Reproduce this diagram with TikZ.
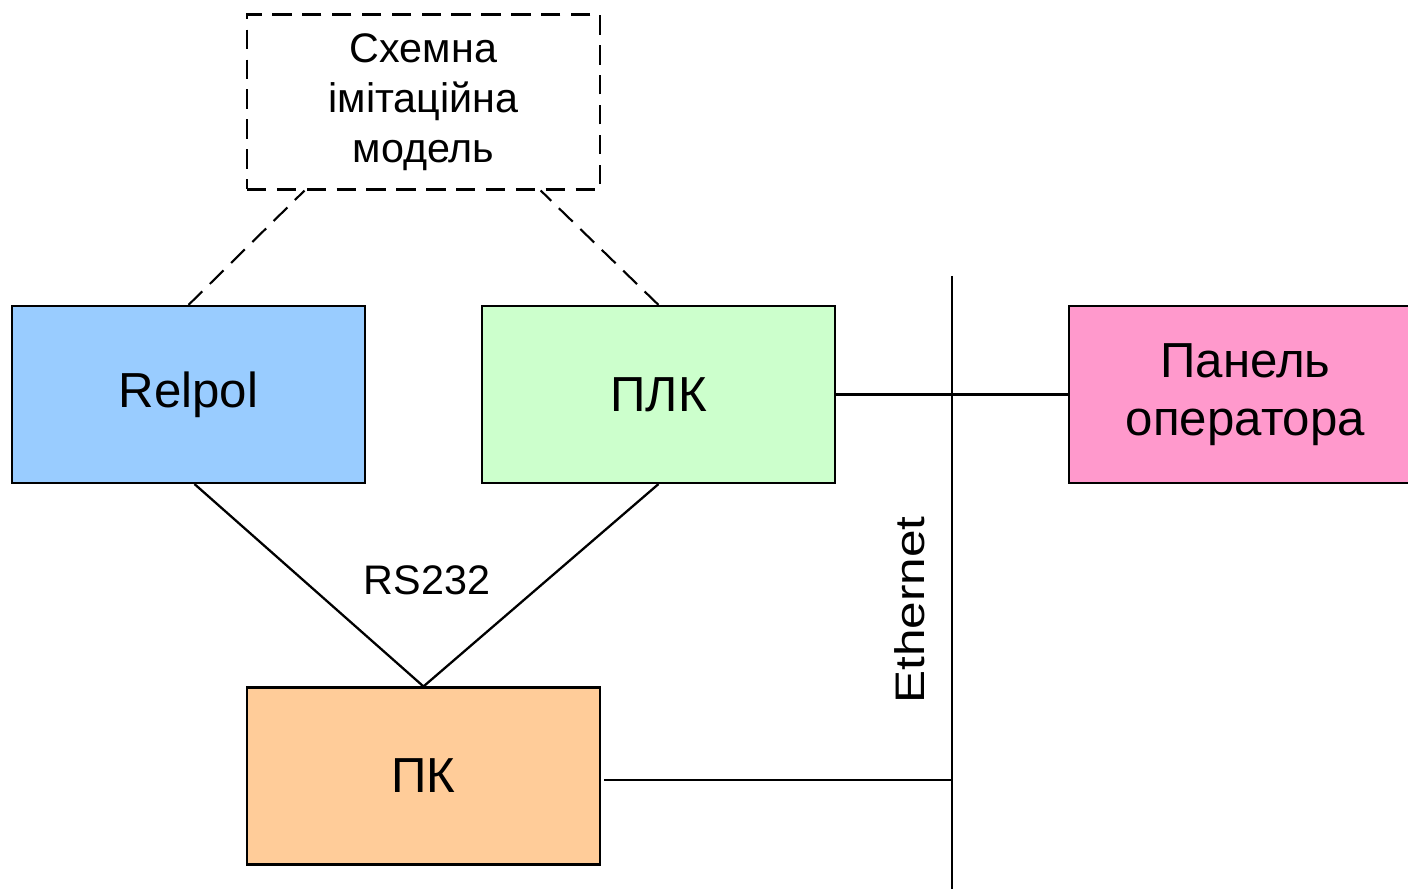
\documentclass[tikz,border=0pt]{standalone}
\usepackage{fontspec}
\setmainfont{Liberation Sans}
\usetikzlibrary{positioning,calc}
\definecolor{relpolcolor}{RGB}{153,204,255}
\definecolor{plccolor}{RGB}{204,255,204}
\definecolor{panelcolor}{RGB}{255,153,204}
\definecolor{pccolor}{RGB}{255,204,153}
\tikzset{
    module/.style={
        rectangle,
        minimum width=7.06cm,
        minimum height=3.54cm,
        text centered,
        align=center,
        draw=black,
        line width=1.2pt,
        font=\fontsize{28}{33}\selectfont
    },
    relpolmodule/.style={module, fill=relpolcolor},
    plcmodule/.style={module, fill=plccolor},
    panelmodule/.style={module, fill=panelcolor},
    pcmodule/.style={module, fill=pccolor},
    modelmodule/.style={module, minimum height=3.5cm, dash pattern=on 11pt off 6pt,
        font=\fontsize{23.5}{28.5}\selectfont},
    link/.style={line width=1.3pt, color=black},
    dashlink/.style={link, line width=1.2pt, dash pattern=on 11pt off 6pt},
    label/.style={font=\fontsize{23.5}{28}\selectfont}
}
\begin{document}
\begin{tikzpicture}
    \clip (0,0) rectangle (28.16,17.78);

    % Model
    \node[modelmodule] (model) at (8.47,15.74) {Схемна\\імітаційна\\модель};

    % Devices
    \node[relpolmodule] (relpol) at (3.77,9.89) {Relpol};
    \node[plcmodule] (plc) at (13.17,9.89) {ПЛК};
    \node[panelmodule] (panel) at (24.91,9.89) {Панель\\оператора};
    \node[pcmodule] (pc) at (8.47,2.26) {ПК};

    % Ethernet bus
    \coordinate (ethtop) at (19.04,12.26);
    \coordinate (ethbot) at (19.04,0);
    \draw[link] (ethtop) -- (ethbot);
    \node[label, rotate=90] (ethernet) at (18.2,5.58) {\scalebox{1.2}[1]{Ethernet}};

    % RS232
    \node[label] (rs) at (8.54,6.18) {RS232};

    % Links
    \draw[dashlink] (relpol.north) -- ($(model.south west)!0.165!(model.south east)$);
    \draw[dashlink] (plc.north) -- ($(model.south west)!0.83!(model.south east)$);
    \draw[link] ([xshift=0.12cm]relpol.south) -- (pc.north);
    \draw[link] (plc.south) -- (pc.north);
    \draw[link] (plc.east) -- (panel.west);
    \draw[link] ([xshift=0.06cm,yshift=-0.08cm]pc.east) -- ([yshift=-0.08cm]pc.east -| ethtop);
\end{tikzpicture}
\end{document}
